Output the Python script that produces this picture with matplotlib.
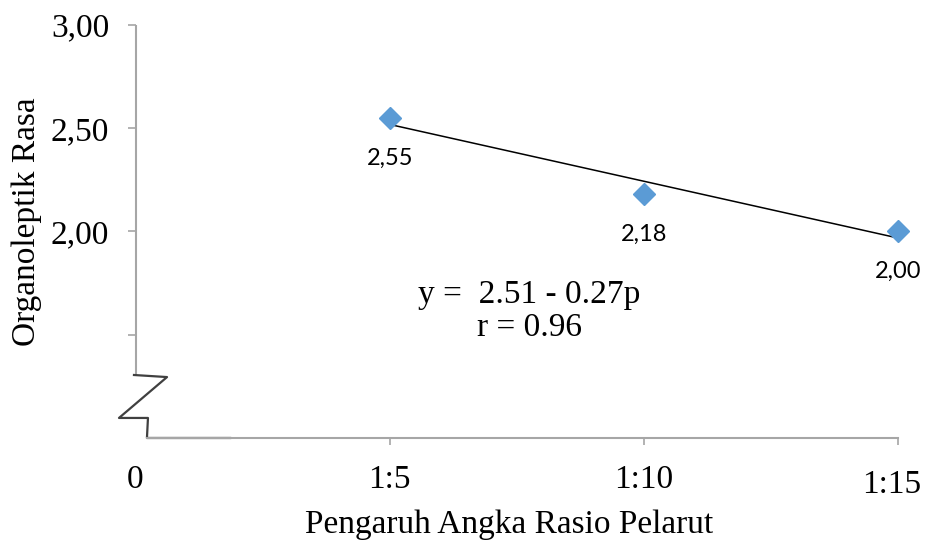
import numpy as np
import matplotlib.pyplot as plt

# data
ratio = [1, 2, 3]
rasa = [2.55, 2.18, 2.00]
point_labels = ['2,55', '2,18', '2,00']
x_pos = [0, 1, 2, 3]
x_names = ['0', '1:5', '1:10', '1:15']
y_ticks = [1.5, 2.0, 2.5, 3.0]
y_names = ['', '2,00', '2,50', '3,00']

serif = 'Liberation Serif'
grey = '#a6a6a6'

fig = plt.figure(figsize=(9.25, 5.43), dpi=100)
ax = fig.add_axes([0.1465, 0.1934, 0.8243, 0.7606])
ax.set_xlim(0, 3)
ax.set_ylim(1.0, 3.0)

for s in ['top', 'right', 'left']:
    ax.spines[s].set_visible(False)
ax.spines['bottom'].set_color(grey)
ax.spines['bottom'].set_linewidth(1.5)
ax.spines['bottom'].set_bounds(0.045, 3)

# y axis line (down to the break)
ax.plot([0, 0], [1.305, 3.0], color=grey, lw=1.5, clip_on=False, solid_capstyle='butt')
# axis break zigzag
bx = [-0.006, 0.124, -0.065, 0.049, 0.045, 0.372]
by = [1.305, 1.295, 1.097, 1.097, 1.0, 1.0]
ax.plot(bx, by, color='#404040', lw=1.6, clip_on=False)

ax.set_yticks(y_ticks)
ax.set_yticklabels(y_names, fontsize=24, family=serif)
ax.tick_params(axis='y', length=6, width=1.2, color=grey, pad=13)
ax.set_xticks(ratio)
ax.set_xticklabels([])
ax.tick_params(axis='x', length=5, width=1.2, color=grey)

for xp, nm in zip(x_pos, x_names):
    off = (-6, -47) if nm == '1:15' else (0, -42)
    ax.annotate(nm, (xp, 0), xycoords=ax.get_xaxis_transform(), xytext=off,
                textcoords='offset pixels', ha='center', va='center',
                fontsize=24, family=serif, annotation_clip=False)

ax.set_xlabel('Pengaruh Angka Rasio Pelarut', fontsize=24, family=serif, va='center')
ax.xaxis.set_label_coords(0.49, -0.211)
ax.set_ylabel('Organoleptik Rasa', fontsize=24, family=serif, va='center')
ax.yaxis.set_label_coords(-0.142, 0.523)

# trendline
k, b = np.polyfit(ratio, rasa, 1)
xl = np.array([ratio[0], ratio[-1]])
ax.plot(xl, k * xl + b, color='black', lw=1.1, zorder=2)

ax.plot(ratio, rasa, 'D', color='#5b9bd5', markersize=11, zorder=3, clip_on=False)
for xv, yv, lb in zip(ratio, rasa, point_labels):
    ax.annotate(lb, (xv, yv), xytext=(0, -40), textcoords='offset pixels',
                ha='center', va='center', fontsize=17, family='Lato')

ax.text(1.55, 1.615, 'y =  2.51 - 0.27p\nr = 0.96', ha='center', va='center',
        fontsize=24, family=serif, multialignment='center', linespacing=1.1)

fig.savefig('out.png', dpi=100)
